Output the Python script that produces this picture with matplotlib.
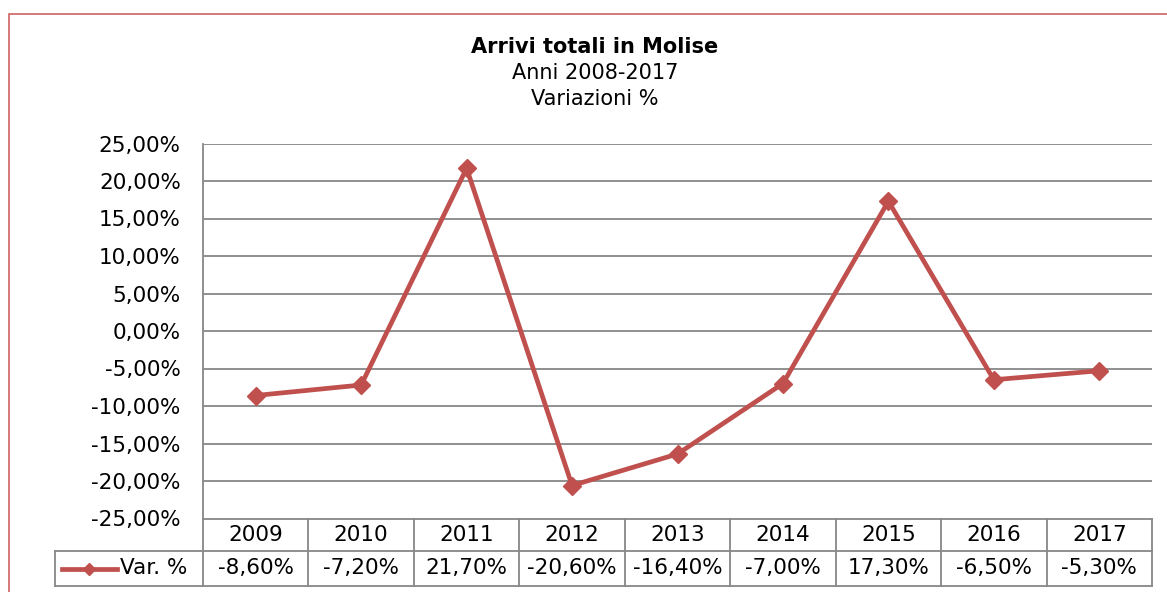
import numpy as np
import matplotlib
matplotlib.use("Agg")
import matplotlib.pyplot as plt
from matplotlib.lines import Line2D
from matplotlib.patches import Rectangle
import matplotlib.transforms as mtransforms

# dati
anni = ["2009", "2010", "2011", "2012", "2013", "2014", "2015", "2016", "2017"]
variazioni = [-8.6, -7.2, 21.7, -20.6, -16.4, -7.0, 17.3, -6.5, -5.3]
serie = "Var. %"
y_ticks = [-25, -20, -15, -10, -5, 0, 5, 10, 15, 20, 25]

RED = "#C0504D"
GRID = "#878787"
W, H = 1167, 592
FS = 15.5


def fmt_pct(v):
    return f"{v:.2f}%".replace(".", ",")


fig = plt.figure(figsize=(W / 100, H / 100), dpi=100)
fig.patch.set_facecolor("white")

# cornice del grafico (taglia a destra e in basso)
fig.patches.append(Rectangle((9 / W, -0.05), 1.2, 1 - 14 / H + 0.05,
                             transform=fig.transFigure, fill=False,
                             edgecolor="#D0706E", linewidth=1.3))

ax = fig.add_axes([203 / W, 1 - 518.5 / H, 949 / W, 375 / H])
x = np.arange(len(anni))
ax.plot(x, variazioni, color=RED, linewidth=3.4, marker="D", markersize=9.5,
        markerfacecolor=RED, markeredgecolor=RED, zorder=3)

ax.set_xlim(-0.5, len(anni) - 0.5)
ax.set_ylim(-25, 25)
ax.set_yticks(y_ticks)
ax.set_yticklabels([fmt_pct(v) for v in y_ticks], fontsize=FS)
ax.tick_params(axis="y", length=0, pad=16)
ax.set_xticks([])
for s in ["top", "right", "bottom"]:
    ax.spines[s].set_visible(False)
ax.spines["left"].set_color(GRID)
ax.spines["left"].set_linewidth(1.3)
for v in y_ticks[1:]:
    ax.axhline(v, color=GRID, linewidth=1.3, zorder=1)

# titolo
fig.text(595 / W, 1 - 47 / H, "Arrivi totali in Molise", ha="center", va="center",
         fontsize=15, fontweight="bold")
fig.text(595 / W, 1 - 73 / H, "Anni 2008-2017", ha="center", va="center", fontsize=15)
fig.text(595 / W, 1 - 99 / H, "Variazioni %", ha="center", va="center", fontsize=15)

# tabella dati sotto il grafico
tr = mtransforms.blended_transform_factory(ax.transData, ax.transAxes)
h1 = 32.5 / 375
h2 = 35 / 375
y0, y1, y2 = 0.0, -h1, -h1 - h2
x_left = -0.5
x_right = len(anni) - 0.5
leg_left = -148 / 949  # axes fraction

lk = dict(color=GRID, linewidth=1.3, clip_on=False)
ax.add_line(Line2D([x_left, x_right], [y0, y0], transform=tr, **lk))
ax.add_line(Line2D([x_right, x_right], [y0, y2], transform=tr, **lk))
ax.add_line(Line2D([x_left, x_left], [y0, y2], transform=tr, **lk))
for i in range(len(anni) - 1):
    ax.add_line(Line2D([i + 0.5, i + 0.5], [y0, y2], transform=tr, **lk))
ax.add_line(Line2D([leg_left, 1.0], [y1, y1], transform=ax.transAxes, **lk))
ax.add_line(Line2D([leg_left, 1.0], [y2, y2], transform=ax.transAxes, **lk))
ax.add_line(Line2D([leg_left, leg_left], [y1, y2], transform=ax.transAxes, **lk))

for i, (a, v) in enumerate(zip(anni, variazioni)):
    ax.text(i, (y0 + y1) / 2, a, transform=tr, ha="center", va="center",
            fontsize=FS, clip_on=False)
    ax.text(i, (y1 + y2) / 2, fmt_pct(v), transform=tr, ha="center", va="center",
            fontsize=FS, clip_on=False)

# legenda nella tabella
ym = (y1 + y2) / 2
lx0 = leg_left + 7 / 949
lx1 = leg_left + 62 / 949
ax.add_line(Line2D([lx0, lx1], [ym, ym], transform=ax.transAxes, color=RED,
                   linewidth=3.4, clip_on=False))
ax.add_line(Line2D([(lx0 + lx1) / 2], [ym], transform=ax.transAxes, color=RED,
                   marker="D", markersize=6.5, clip_on=False))
ax.text(leg_left + 65 / 949, ym, serie, transform=ax.transAxes, ha="left", va="center",
        fontsize=FS, clip_on=False)

fig.savefig("out.png", dpi=100)
